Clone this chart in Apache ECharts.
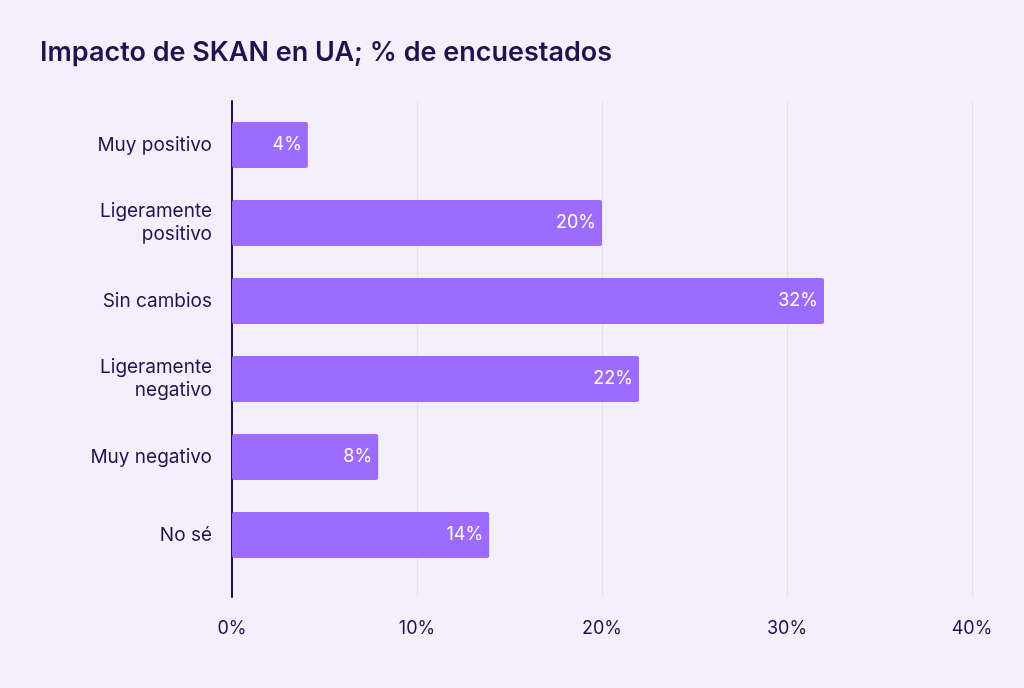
<!DOCTYPE html>
<html><head><meta charset="utf-8">
<script src="https://cdn.jsdelivr.net/npm/echarts@6/dist/echarts.min.js"></script>
<style>html,body{margin:0;padding:0;background:#f3f0fb;}#c{width:1024px;height:688px;}</style>
</head><body><div id="c"></div>
<script>
const title = 'Impacto de SKAN en UA; % de encuestados';
const categories = ['Muy positivo', 'Ligeramente\npositivo', 'Sin cambios', 'Ligeramente\nnegativo', 'Muy negativo', 'No sé'];
const values = [4.1, 20, 32, 22, 7.9, 13.9];
const labels = ['4%', '20%', '32%', '22%', '8%', '14%'];
const xTicks = [0, 10, 20, 30, 40];

const txt = '#22134f';
const font = 'Inter, "Noto Sans", sans-serif';
const chart = echarts.init(document.getElementById('c'));
chart.setOption({
  backgroundColor: '#f3f0fb',
  animation: false,
  title: { text: title, left: 35, top: 34, textStyle: { fontFamily: font, fontSize: 27, fontWeight: 600, color: txt } },
  grid: [
    { left: 232, right: 52, top: 106, height: 468 },
    { left: 232, right: 52, top: 101, bottom: 91 }
  ],
  xAxis: [
    { gridIndex: 0, type: 'value', min: 0, max: 40, interval: 10, show: false },
    { gridIndex: 1, type: 'value', min: xTicks[0], max: xTicks[xTicks.length - 1], interval: 10,
      axisLine: { show: false }, axisTick: { show: false },
      splitLine: { show: true, lineStyle: { color: '#e5e1ea', width: 1 } },
      axisLabel: { margin: 23, color: txt, fontFamily: font, fontSize: 18, formatter: v => v + '%' } }
  ],
  yAxis: [
    { gridIndex: 0, type: 'category', data: categories, inverse: true,
      axisLine: { show: false }, axisTick: { show: false }, splitLine: { show: false },
      axisLabel: { margin: 20, color: txt, fontFamily: font, fontSize: 19, lineHeight: 23, align: 'right' } },
    { gridIndex: 1, type: 'value', min: 0, max: 1,
      axisLine: { show: true, lineStyle: { color: '#1f0f45', width: 2 } },
      axisTick: { show: false }, axisLabel: { show: false }, splitLine: { show: false } }
  ],
  series: [{
    type: 'bar', xAxisIndex: 0, yAxisIndex: 0, data: values, barWidth: 46,
    itemStyle: { color: '#9d6cff', borderRadius: 2 },
    label: { show: true, position: 'insideRight', distance: 6, color: '#ffffff', fontFamily: font, fontSize: 18,
      formatter: p => labels[p.dataIndex] }
  }]
});
</script></body></html>
